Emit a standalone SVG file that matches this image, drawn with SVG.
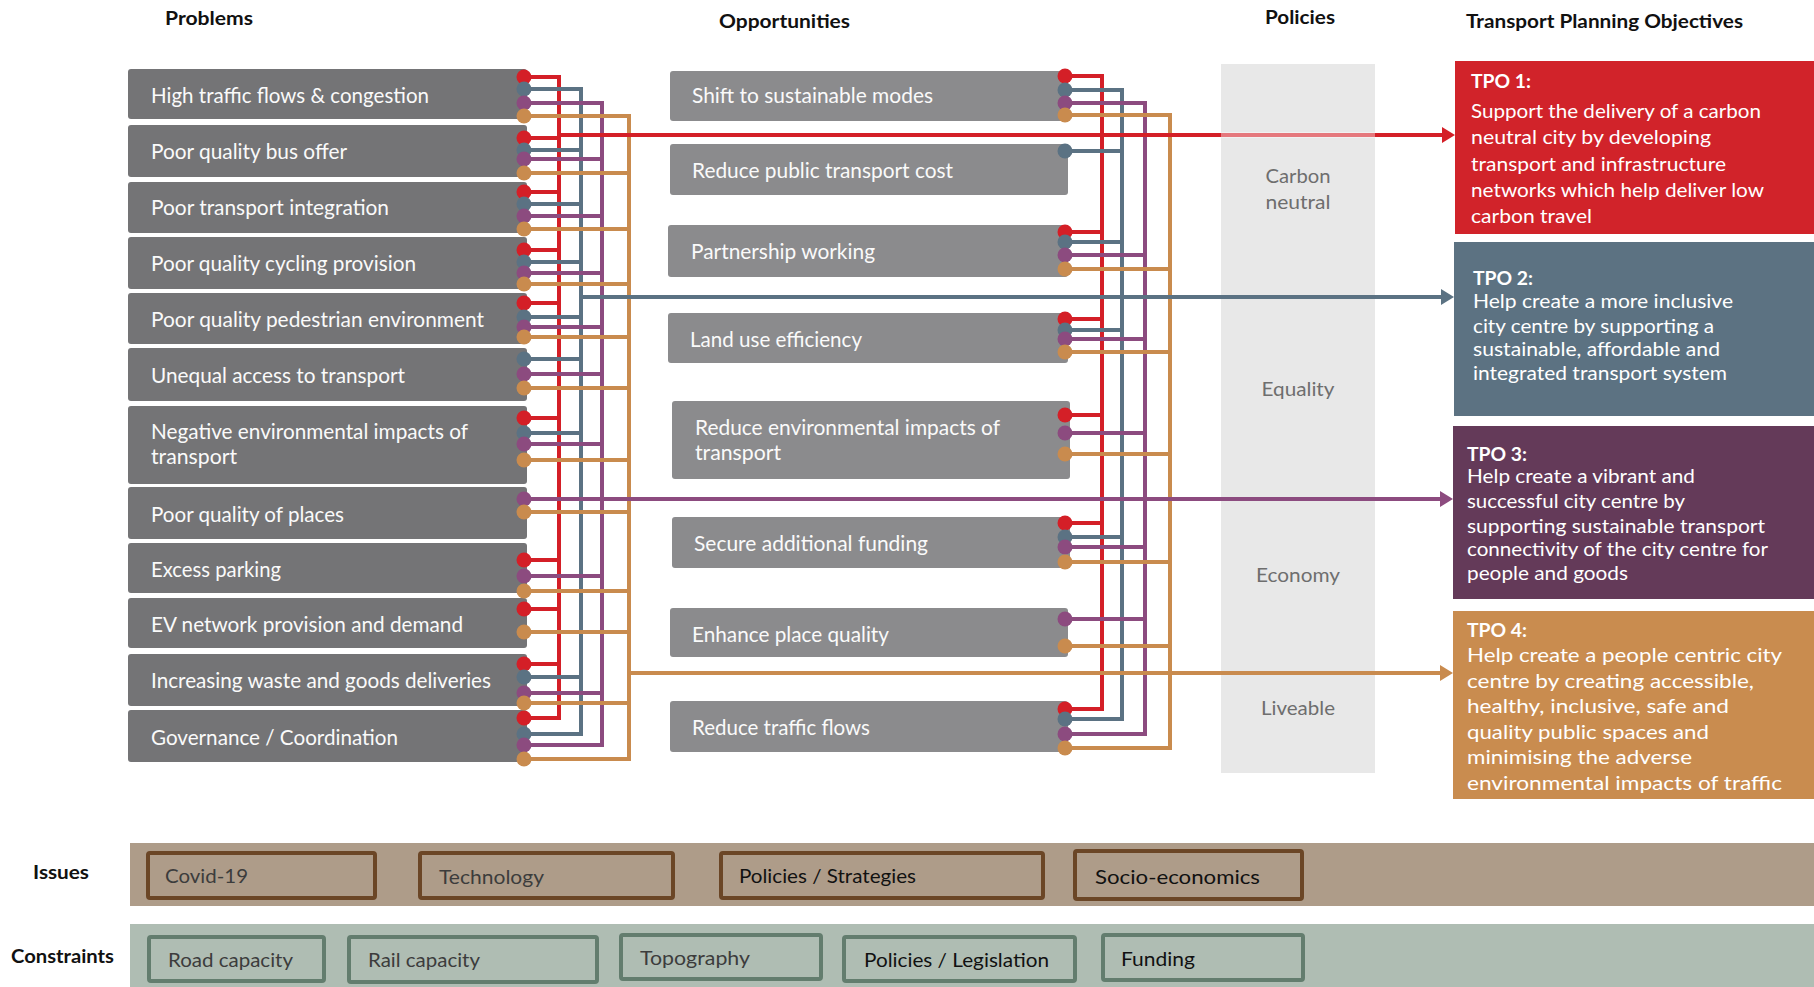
<svg xmlns="http://www.w3.org/2000/svg" width="1814" height="987" viewBox="0 0 1814 987">
<style>
text{font-family:Lato,"Open Sans","Liberation Sans",sans-serif}
.hd{font-size:19px;font-weight:700;fill:#111}
.pb{fill:#747476}
.ob{fill:#8b8b8d}
.bt{font-size:21px;fill:#fafafa}
.pol{font-size:19px;fill:#6e6e6e}
.tpo{font-size:19px;fill:#fff}
.tpoh{font-size:19px;font-weight:700;fill:#fff}
.ib{fill:none;stroke:#6b4626;stroke-width:4}
.cb{fill:none;stroke:#637d6e;stroke-width:4}
.it{font-size:20px;fill:#3c3c3c}
.itk{font-size:20px;fill:#111}
.lab{font-size:19px;font-weight:700;fill:#111}
.r{stroke:#d41f27}.b{stroke:#5b7283}.p{stroke:#8c4b7f}.o{stroke:#c98b4e}
.rf{fill:#d41f27}.bf{fill:#5b7283}.pf{fill:#8c4b7f}.of{fill:#c98b4e}
.ln{fill:none;stroke-width:4;stroke-linecap:square}
.lg{fill:none;stroke-width:4}
</style>
<defs>
<marker id="ar" markerUnits="userSpaceOnUse" viewBox="0 0 13 16" refX="4" refY="8" markerWidth="13" markerHeight="16" orient="auto"><path d="M0,0 L13,8 L0,16 z" fill="#d41f27"/></marker>
<marker id="ab" markerUnits="userSpaceOnUse" viewBox="0 0 13 16" refX="4" refY="8" markerWidth="13" markerHeight="16" orient="auto"><path d="M0,0 L13,8 L0,16 z" fill="#5b7283"/></marker>
<marker id="ap" markerUnits="userSpaceOnUse" viewBox="0 0 13 16" refX="4" refY="8" markerWidth="13" markerHeight="16" orient="auto"><path d="M0,0 L13,8 L0,16 z" fill="#8c4b7f"/></marker>
<marker id="ao" markerUnits="userSpaceOnUse" viewBox="0 0 13 16" refX="4" refY="8" markerWidth="13" markerHeight="16" orient="auto"><path d="M0,0 L13,8 L0,16 z" fill="#c98b4e"/></marker>
</defs>
<rect width="1814" height="987" fill="#fff"/>

<g id="headers">
<text class="hd" x="165" y="25" textLength="88" lengthAdjust="spacingAndGlyphs">Problems</text>
<text class="hd" x="719" y="28" textLength="131" lengthAdjust="spacingAndGlyphs">Opportunities</text>
<text class="hd" x="1265" y="24" textLength="70" lengthAdjust="spacingAndGlyphs">Policies</text>
<text class="hd" x="1466" y="28" textLength="277" lengthAdjust="spacingAndGlyphs">Transport Planning Objectives</text>
</g>

<g id="policies">
<rect x="1221" y="64" width="154" height="709" fill="#e8e8e8"/>
<text class="pol" x="1298" y="183" text-anchor="middle" textLength="65" lengthAdjust="spacingAndGlyphs">Carbon</text>
<text class="pol" x="1298" y="209" text-anchor="middle" textLength="65" lengthAdjust="spacingAndGlyphs">neutral</text>
<text class="pol" x="1298" y="396" text-anchor="middle" textLength="73" lengthAdjust="spacingAndGlyphs">Equality</text>
<text class="pol" x="1298" y="582" text-anchor="middle" textLength="84" lengthAdjust="spacingAndGlyphs">Economy</text>
<text class="pol" x="1298" y="715" text-anchor="middle" textLength="74" lengthAdjust="spacingAndGlyphs">Liveable</text>
</g>

<g id="problems">
<g id="p1"><rect class="pb" x="128" y="69" width="399" height="50" rx="3"/><text class="bt" x="151" y="103" textLength="278" lengthAdjust="spacingAndGlyphs">High traffic flows &amp; congestion</text></g>
<g id="p2"><rect class="pb" x="128" y="125" width="399" height="52" rx="3"/><text class="bt" x="151" y="159" textLength="196" lengthAdjust="spacingAndGlyphs">Poor quality bus offer</text></g>
<g id="p3"><rect class="pb" x="128" y="182" width="399" height="51" rx="3"/><text class="bt" x="151" y="215" textLength="238" lengthAdjust="spacingAndGlyphs">Poor transport integration</text></g>
<g id="p4"><rect class="pb" x="128" y="237" width="399" height="52" rx="3"/><text class="bt" x="151" y="271" textLength="265" lengthAdjust="spacingAndGlyphs">Poor quality cycling provision</text></g>
<g id="p5"><rect class="pb" x="128" y="293" width="399" height="51" rx="3"/><text class="bt" x="151" y="327" textLength="333" lengthAdjust="spacingAndGlyphs">Poor quality pedestrian environment</text></g>
<g id="p6"><rect class="pb" x="128" y="348" width="399" height="53" rx="3"/><text class="bt" x="151" y="383" textLength="254" lengthAdjust="spacingAndGlyphs">Unequal access to transport</text></g>
<g id="p7"><rect class="pb" x="128" y="406" width="399" height="78" rx="3"/><text class="bt" x="151" y="439" textLength="317" lengthAdjust="spacingAndGlyphs">Negative environmental impacts of</text><text class="bt" x="151" y="464" textLength="86" lengthAdjust="spacingAndGlyphs">transport</text></g>
<g id="p8"><rect class="pb" x="128" y="487" width="399" height="52" rx="3"/><text class="bt" x="151" y="522" textLength="193" lengthAdjust="spacingAndGlyphs">Poor quality of places</text></g>
<g id="p9"><rect class="pb" x="128" y="543" width="399" height="50" rx="3"/><text class="bt" x="151" y="577" textLength="130" lengthAdjust="spacingAndGlyphs">Excess parking</text></g>
<g id="p10"><rect class="pb" x="128" y="598" width="399" height="50" rx="3"/><text class="bt" x="151" y="632" textLength="312" lengthAdjust="spacingAndGlyphs">EV network provision and demand</text></g>
<g id="p11"><rect class="pb" x="128" y="654" width="399" height="52" rx="3"/><text class="bt" x="151" y="688" textLength="340" lengthAdjust="spacingAndGlyphs">Increasing waste and goods deliveries</text></g>
<g id="p12"><rect class="pb" x="128" y="710" width="399" height="52" rx="3"/><text class="bt" x="151" y="745" textLength="247" lengthAdjust="spacingAndGlyphs">Governance / Coordination</text></g>
</g>

<g id="opportunities">
<g id="o1"><rect class="ob" x="670" y="71" width="398" height="50" rx="3"/><text class="bt" x="692" y="103" textLength="241" lengthAdjust="spacingAndGlyphs">Shift to sustainable modes</text></g>
<g id="o2"><rect class="ob" x="670" y="144" width="398" height="51" rx="3"/><text class="bt" x="692" y="178" textLength="261" lengthAdjust="spacingAndGlyphs">Reduce public transport cost</text></g>
<g id="o3"><rect class="ob" x="668" y="225" width="400" height="52" rx="3"/><text class="bt" x="691" y="259" textLength="184" lengthAdjust="spacingAndGlyphs">Partnership working</text></g>
<g id="o4"><rect class="ob" x="668" y="313" width="400" height="50" rx="3"/><text class="bt" x="690" y="347" textLength="172" lengthAdjust="spacingAndGlyphs">Land use efficiency</text></g>
<g id="o5"><rect class="ob" x="672" y="401" width="398" height="78" rx="3"/><text class="bt" x="695" y="435" textLength="305" lengthAdjust="spacingAndGlyphs">Reduce environmental impacts of</text><text class="bt" x="695" y="460" textLength="86" lengthAdjust="spacingAndGlyphs">transport</text></g>
<g id="o6"><rect class="ob" x="672" y="517" width="398" height="51" rx="3"/><text class="bt" x="694" y="551" textLength="234" lengthAdjust="spacingAndGlyphs">Secure additional funding</text></g>
<g id="o7"><rect class="ob" x="670" y="608" width="398" height="49" rx="3"/><text class="bt" x="692" y="642" textLength="197" lengthAdjust="spacingAndGlyphs">Enhance place quality</text></g>
<g id="o8"><rect class="ob" x="670" y="701" width="398" height="51" rx="3"/><text class="bt" x="692" y="735" textLength="178" lengthAdjust="spacingAndGlyphs">Reduce traffic flows</text></g>
</g>

<g id="connectors">
<!-- left side buses -->
<path class="ln r" d="M559,77V718 M524,77H559 M524,138H559 M524,192H559 M524,250H559 M524,303H559 M524,418H559 M524,560H559 M524,609H559 M524,664H559 M524,718H559"/>
<path class="ln b" d="M581,89V734 M524,89H581 M524,150H581 M524,204H581 M524,262H581 M524,317H581 M524,359H581 M524,433H581 M524,677H581 M524,734H581"/>
<path class="ln p" d="M602,103V745 M524,103H602 M524,159H602 M524,216H602 M524,273H602 M524,327H602 M524,374H602 M524,444H602 M524,576H602 M524,693H602 M524,745H602"/>
<path class="ln o" d="M629,116V759 M524,116H629 M524,173H629 M524,229H629 M524,284H629 M524,337H629 M524,388H629 M524,460H629 M524,512H629 M524,591H629 M524,632H629 M524,703H629 M524,759H629"/>
<!-- right side buses -->
<path class="ln r" d="M1102,76V709 M1065,76H1102 M1065,232H1102 M1065,319H1102 M1065,415H1102 M1065,523H1102 M1065,709H1102"/>
<path class="ln b" d="M1122,90V719 M1065,90H1122 M1065,151H1122 M1065,242H1122 M1065,330H1122 M1065,537H1122 M1065,719H1122"/>
<path class="ln p" d="M1145,103V734 M1065,103H1145 M1065,255H1145 M1065,339H1145 M1065,433H1145 M1065,547H1145 M1065,619H1145 M1065,734H1145"/>
<path class="ln o" d="M1170,115V748 M1065,115H1170 M1065,269H1170 M1065,352H1170 M1065,454H1170 M1065,562H1170 M1065,646H1170 M1065,748H1170"/>
<!-- long lines to objectives -->
<path class="lg r" d="M559,135H1446" marker-end="url(#ar)"/>
<rect x="1221" y="132" width="154" height="6" fill="#ffffff" opacity="0.4"/>
<path class="lg b" d="M581,297H1445" marker-end="url(#ab)"/>
<path class="lg p" d="M524,499H1444" marker-end="url(#ap)"/>
<path class="lg o" d="M629,673H1444" marker-end="url(#ao)"/>
<!-- dots left -->
<g class="rf"><circle cx="524" cy="77" r="7.5"/><circle cx="524" cy="138" r="7.5"/><circle cx="524" cy="192" r="7.5"/><circle cx="524" cy="250" r="7.5"/><circle cx="524" cy="303" r="7.5"/><circle cx="524" cy="418" r="7.5"/><circle cx="524" cy="560" r="7.5"/><circle cx="524" cy="609" r="7.5"/><circle cx="524" cy="664" r="7.5"/><circle cx="524" cy="718" r="7.5"/></g>
<g class="bf"><circle cx="524" cy="89" r="7.5"/><circle cx="524" cy="150" r="7.5"/><circle cx="524" cy="204" r="7.5"/><circle cx="524" cy="262" r="7.5"/><circle cx="524" cy="317" r="7.5"/><circle cx="524" cy="359" r="7.5"/><circle cx="524" cy="433" r="7.5"/><circle cx="524" cy="677" r="7.5"/><circle cx="524" cy="734" r="7.5"/></g>
<g class="pf"><circle cx="524" cy="103" r="7.5"/><circle cx="524" cy="159" r="7.5"/><circle cx="524" cy="216" r="7.5"/><circle cx="524" cy="273" r="7.5"/><circle cx="524" cy="327" r="7.5"/><circle cx="524" cy="374" r="7.5"/><circle cx="524" cy="444" r="7.5"/><circle cx="524" cy="499" r="7.5"/><circle cx="524" cy="576" r="7.5"/><circle cx="524" cy="693" r="7.5"/><circle cx="524" cy="745" r="7.5"/></g>
<g class="of"><circle cx="524" cy="116" r="7.5"/><circle cx="524" cy="173" r="7.5"/><circle cx="524" cy="229" r="7.5"/><circle cx="524" cy="284" r="7.5"/><circle cx="524" cy="337" r="7.5"/><circle cx="524" cy="388" r="7.5"/><circle cx="524" cy="460" r="7.5"/><circle cx="524" cy="512" r="7.5"/><circle cx="524" cy="591" r="7.5"/><circle cx="524" cy="632" r="7.5"/><circle cx="524" cy="703" r="7.5"/><circle cx="524" cy="759" r="7.5"/></g>
<!-- dots right -->
<g class="rf"><circle cx="1065" cy="76" r="7.5"/><circle cx="1065" cy="232" r="7.5"/><circle cx="1065" cy="319" r="7.5"/><circle cx="1065" cy="415" r="7.5"/><circle cx="1065" cy="523" r="7.5"/><circle cx="1065" cy="709" r="7.5"/></g>
<g class="bf"><circle cx="1065" cy="90" r="7.5"/><circle cx="1065" cy="151" r="7.5"/><circle cx="1065" cy="242" r="7.5"/><circle cx="1065" cy="330" r="7.5"/><circle cx="1065" cy="537" r="7.5"/><circle cx="1065" cy="719" r="7.5"/></g>
<g class="pf"><circle cx="1065" cy="103" r="7.5"/><circle cx="1065" cy="255" r="7.5"/><circle cx="1065" cy="339" r="7.5"/><circle cx="1065" cy="433" r="7.5"/><circle cx="1065" cy="547" r="7.5"/><circle cx="1065" cy="619" r="7.5"/><circle cx="1065" cy="734" r="7.5"/></g>
<g class="of"><circle cx="1065" cy="115" r="7.5"/><circle cx="1065" cy="269" r="7.5"/><circle cx="1065" cy="352" r="7.5"/><circle cx="1065" cy="454" r="7.5"/><circle cx="1065" cy="562" r="7.5"/><circle cx="1065" cy="646" r="7.5"/><circle cx="1065" cy="748" r="7.5"/></g>
</g>

<g id="tpo1">
<rect x="1455" y="61" width="359" height="173" fill="#d1232a"/>
<text class="tpoh" x="1471" y="88" textLength="60" lengthAdjust="spacingAndGlyphs">TPO 1:</text>
<text class="tpo" x="1471" y="118" textLength="290" lengthAdjust="spacingAndGlyphs">Support the delivery of a carbon</text>
<text class="tpo" x="1471" y="144" textLength="240" lengthAdjust="spacingAndGlyphs">neutral city by developing</text>
<text class="tpo" x="1471" y="171" textLength="255" lengthAdjust="spacingAndGlyphs">transport and infrastructure</text>
<text class="tpo" x="1471" y="197" textLength="293" lengthAdjust="spacingAndGlyphs">networks which help deliver low</text>
<text class="tpo" x="1471" y="223" textLength="121" lengthAdjust="spacingAndGlyphs">carbon travel</text>
</g>
<g id="tpo2">
<rect x="1454" y="242" width="360" height="174" fill="#5c7282"/>
<text class="tpoh" x="1473" y="285" textLength="60" lengthAdjust="spacingAndGlyphs">TPO 2:</text>
<text class="tpo" x="1473" y="308" textLength="260" lengthAdjust="spacingAndGlyphs">Help create a more inclusive</text>
<text class="tpo" x="1473" y="333" textLength="241" lengthAdjust="spacingAndGlyphs">city centre by supporting a</text>
<text class="tpo" x="1473" y="356" textLength="247" lengthAdjust="spacingAndGlyphs">sustainable, affordable and</text>
<text class="tpo" x="1473" y="380" textLength="254" lengthAdjust="spacingAndGlyphs">integrated transport system</text>
</g>
<g id="tpo3">
<rect x="1453" y="426" width="361" height="173" fill="#643a59"/>
<text class="tpoh" x="1467" y="461" textLength="60" lengthAdjust="spacingAndGlyphs">TPO 3:</text>
<text class="tpo" x="1467" y="483" textLength="228" lengthAdjust="spacingAndGlyphs">Help create a vibrant and</text>
<text class="tpo" x="1467" y="508" textLength="218" lengthAdjust="spacingAndGlyphs">successful city centre by</text>
<text class="tpo" x="1467" y="533" textLength="298" lengthAdjust="spacingAndGlyphs">supporting sustainable transport</text>
<text class="tpo" x="1467" y="556" textLength="301" lengthAdjust="spacingAndGlyphs">connectivity of the city centre for</text>
<text class="tpo" x="1467" y="580" textLength="161" lengthAdjust="spacingAndGlyphs">people and goods</text>
</g>
<g id="tpo4">
<rect x="1453" y="611" width="361" height="188" fill="#c98c4f"/>
<text class="tpoh" x="1467" y="637" textLength="60" lengthAdjust="spacingAndGlyphs">TPO 4:</text>
<text class="tpo" x="1467" y="662" textLength="315" lengthAdjust="spacingAndGlyphs">Help create a people centric city</text>
<text class="tpo" x="1467" y="688" textLength="287" lengthAdjust="spacingAndGlyphs">centre by creating accessible,</text>
<text class="tpo" x="1467" y="713" textLength="262" lengthAdjust="spacingAndGlyphs">healthy, inclusive, safe and</text>
<text class="tpo" x="1467" y="739" textLength="242" lengthAdjust="spacingAndGlyphs">quality public spaces and</text>
<text class="tpo" x="1467" y="764" textLength="225" lengthAdjust="spacingAndGlyphs">minimising the adverse</text>
<text class="tpo" x="1467" y="790" textLength="315" lengthAdjust="spacingAndGlyphs">environmental impacts of traffic</text>
</g>

<g id="issues">
<text class="lab" x="33" y="879" textLength="56" lengthAdjust="spacingAndGlyphs">Issues</text>
<rect x="130" y="843" width="1684" height="63" fill="#ae9c89"/>
<g id="i1"><rect class="ib" x="148" y="853" width="227" height="45" rx="2"/><text class="it" x="165" y="883" textLength="83" lengthAdjust="spacingAndGlyphs">Covid-19</text></g>
<g id="i2"><rect class="ib" x="420" y="853" width="253" height="45" rx="2"/><text class="it" x="439" y="884" textLength="105" lengthAdjust="spacingAndGlyphs">Technology</text></g>
<g id="i3"><rect class="ib" x="721" y="853" width="322" height="45" rx="2"/><text class="itk" x="739" y="883" textLength="177" lengthAdjust="spacingAndGlyphs">Policies / Strategies</text></g>
<g id="i4"><rect class="ib" x="1075" y="851" width="227" height="48" rx="2"/><text class="itk" x="1095" y="884" textLength="165" lengthAdjust="spacingAndGlyphs">Socio-economics</text></g>
</g>

<g id="constraints">
<text class="lab" x="11" y="963" textLength="103" lengthAdjust="spacingAndGlyphs">Constraints</text>
<rect x="130" y="924" width="1684" height="63" fill="#afbdb3"/>
<g id="c1"><rect class="cb" x="149" y="937" width="175" height="44" rx="2"/><text class="it" x="168" y="967" textLength="125" lengthAdjust="spacingAndGlyphs">Road capacity</text></g>
<g id="c2"><rect class="cb" x="349" y="937" width="248" height="45" rx="2"/><text class="it" x="368" y="967" textLength="112" lengthAdjust="spacingAndGlyphs">Rail capacity</text></g>
<g id="c3"><rect class="cb" x="621" y="935" width="200" height="44" rx="2"/><text class="it" x="640" y="965" textLength="110" lengthAdjust="spacingAndGlyphs">Topography</text></g>
<g id="c4"><rect class="cb" x="844" y="937" width="231" height="44" rx="2"/><text class="itk" x="864" y="967" textLength="185" lengthAdjust="spacingAndGlyphs">Policies / Legislation</text></g>
<g id="c5"><rect class="cb" x="1103" y="935" width="200" height="45" rx="2"/><text class="itk" x="1121" y="966" textLength="74" lengthAdjust="spacingAndGlyphs">Funding</text></g>
</g>
</svg>
